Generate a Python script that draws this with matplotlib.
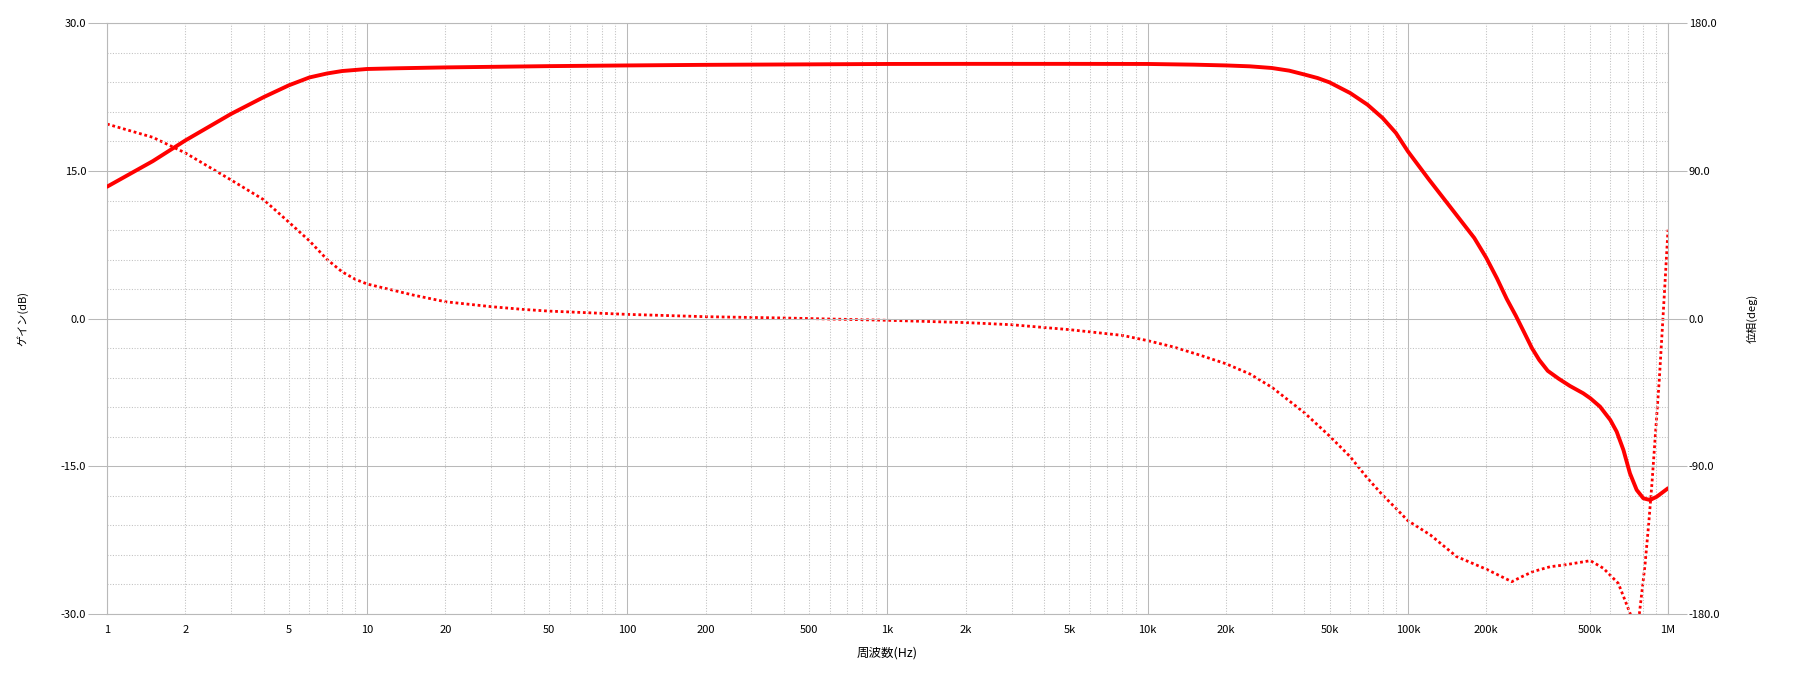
import matplotlib
matplotlib.use("Agg")
import matplotlib.pyplot as plt
from matplotlib.ticker import FuncFormatter, MultipleLocator, FixedLocator, NullFormatter

plt.rcParams['font.family'] = ['Noto Sans CJK JP', 'DejaVu Sans']

# ---- data ----
gain_freq = [1, 1.5, 2, 3, 4, 5, 6, 7, 8, 9, 10, 13, 20, 50, 100, 200, 500,
             1e3, 2e3, 5e3, 1e4, 1.5e4, 2e4, 2.47e4, 3e4, 3.5e4, 4e4, 4.5e4,
             5e4, 6e4, 7e4, 8e4, 9e4, 1e5, 1.2e5, 1.5e5, 1.8e5, 2e5, 2.2e5,
             2.4e5, 2.6e5, 2.8e5, 3e5, 3.2e5, 3.45e5, 3.8e5, 4.2e5, 4.72e5,
             5.03e5, 5.48e5, 6e5, 6.35e5, 6.74e5, 7.14e5, 7.58e5, 8.04e5,
             8.53e5, 9.05e5, 1e6]
gain_db = [13.4, 16.0, 18.1, 20.8, 22.5, 23.7, 24.5, 24.9, 25.15, 25.26, 25.36,
           25.43, 25.52, 25.65, 25.72, 25.78, 25.83, 25.87, 25.88, 25.88, 25.87,
           25.8, 25.72, 25.63, 25.46, 25.19, 24.8, 24.44, 24.0, 22.92, 21.73,
           20.38, 18.86, 17.0, 14.2, 10.9, 8.2, 6.2, 4.1, 2.0, 0.3, -1.4, -3.0,
           -4.2, -5.3, -6.1, -6.84, -7.58, -8.09, -8.94, -10.29, -11.48,
           -13.34, -15.71, -17.4, -18.25, -18.42, -18.09, -17.23]

phase_freq = [1, 1.5, 2, 3, 4, 5, 6, 7, 8, 9, 10, 15, 20, 30, 40, 50, 100, 200,
              400, 1e3, 2e3, 3e3, 5e3, 8e3, 1e4, 1.26e4, 1.6e4, 2e4, 2.47e4,
              3e4, 4e4, 5e4, 6e4, 7e4, 8e4, 9e4, 1e5, 1.22e5, 1.54e5, 2.01e5,
              2.51e5, 2.74e5, 3.02e5, 3.52e5, 4e5, 5.03e5, 5.64e5, 6.44e5,
              6.83e5, 7.14e5, 7.35e5, 7.55e5, 7.76e5, 8.16e5, 8.43e5, 8.68e5,
              8.95e5, 9.26e5, 9.52e5, 9.74e5, 1e6]
phase_deg = [118.6, 110.5, 101.0, 84.5, 72.5, 58.8, 47.4, 36.2, 28.6, 24.0,
             21.1, 14.4, 10.3, 7.3, 5.6, 4.6, 2.6, 1.2, 0.4, -1.0, -2.4, -3.7,
             -6.7, -10.2, -13.4, -17.3, -22.4, -27.5, -33.7, -41.8, -57.3,
             -71.5, -84.1, -97.3, -107.5, -115.6, -123.1, -131.8, -145.0,
             -152.8, -160.3, -157.3, -154.2, -151.2, -150.1, -147.5, -152.1,
             -161.3, -171.5, -179.4, -185.0, -185.0, -180.0, -150.0, -125.0,
             -100.0, -70.0, -37.0, -5.0, 22.0, 54.2]

gain_ticks = [-30, -15, 0, 15, 30]
phase_ticks = [-180, -90, 0, 90, 180]
decades = [1, 10, 100, 1e3, 1e4, 1e5, 1e6]

# ---- figure ----
W, H, DPI = 1798, 676, 100
fig = plt.figure(figsize=(W / DPI, H / DPI), dpi=DPI)
left, right, top, bottom = 107, 1668, 23.3, 614
ax = fig.add_axes([left / W, 1 - bottom / H, (right - left) / W, (bottom - top) / H])
ax2 = ax.twinx()

grid_major = '#b9b9b9'
grid_minor = '#c0c0c0'

ax.set_xscale('log')
ax.set_xlim(1, 1e6)
ax.set_ylim(-30, 30)
ax2.set_ylim(-180, 180)


def freq_label(v):
    if v >= 1e6:
        return f"{v/1e6:g}M"
    if v >= 1e3:
        return f"{v/1e3:g}k"
    return f"{v:g}"


minor_pos = [d * m for d in decades[:-1] for m in range(2, 10)]
labelled_minor = [d * m for d in decades[:-1] for m in (2, 5)]


def minor_label(v, pos):
    for lv in labelled_minor:
        if abs(v - lv) / lv < 1e-6:
            return freq_label(v)
    return ""


ax.xaxis.set_major_locator(FixedLocator(decades))
ax.xaxis.set_minor_locator(FixedLocator(minor_pos))
ax.xaxis.set_major_formatter(FuncFormatter(lambda v, p: freq_label(v)))
ax.xaxis.set_minor_formatter(FuncFormatter(minor_label))
ax.tick_params(axis='x', which='both', length=0, pad=8, labelsize=8, labelcolor='black')

ax.yaxis.set_major_locator(FixedLocator(gain_ticks))
ax.yaxis.set_minor_locator(MultipleLocator(3))
ax.yaxis.set_major_formatter(FuncFormatter(lambda v, p: f"{v:.1f}"))
ax.tick_params(axis='y', which='major', length=13.5, width=0.75, color=grid_major,
               pad=1.5, labelsize=8, direction='out')
ax.tick_params(axis='y', which='minor', length=0)

ax.grid(True, which='major', color=grid_major, linewidth=0.75, linestyle='-')
ax.grid(True, which='minor', color=grid_minor, linewidth=0.75, linestyle=(0, (1, 1.6)))
ax.set_axisbelow(True)

ax2.yaxis.set_major_locator(FixedLocator(phase_ticks))
ax2.yaxis.set_major_formatter(FuncFormatter(lambda v, p: f"{v:.1f}"))
ax2.yaxis.set_minor_formatter(NullFormatter())
ax2.tick_params(axis='y', which='major', length=13.5, width=0.75, color=grid_major,
                pad=1.5, labelsize=8, direction='out')
ax2.tick_params(axis='y', which='minor', length=0)

for a in (ax, ax2):
    for s in a.spines.values():
        s.set_color(grid_major)
        s.set_linewidth(0.75)

ax2.plot(phase_freq, phase_deg, color='#ff0000', linewidth=2.0,
         linestyle=(0, (1, 1)), dash_capstyle='butt', zorder=2)
ax.plot(gain_freq, gain_db, color='#ff0000', linewidth=2.8, solid_capstyle='round',
        solid_joinstyle='round', zorder=3)
ax.set_zorder(ax2.get_zorder() + 1)
ax.patch.set_visible(False)

span_w = right - left
ax.set_xlabel('周波数(Hz)', fontsize=9, labelpad=8)
ax.set_ylabel('ゲイン(dB)', fontsize=8, rotation=90)
ax.yaxis.set_label_coords((28 - left) / span_w, 0.5)
ax2.set_ylabel('位相(deg)', fontsize=8, rotation=90)
ax2.yaxis.set_label_coords((1747 - left) / span_w, 0.5)

fig.savefig('out.png', dpi=DPI, facecolor='white')
